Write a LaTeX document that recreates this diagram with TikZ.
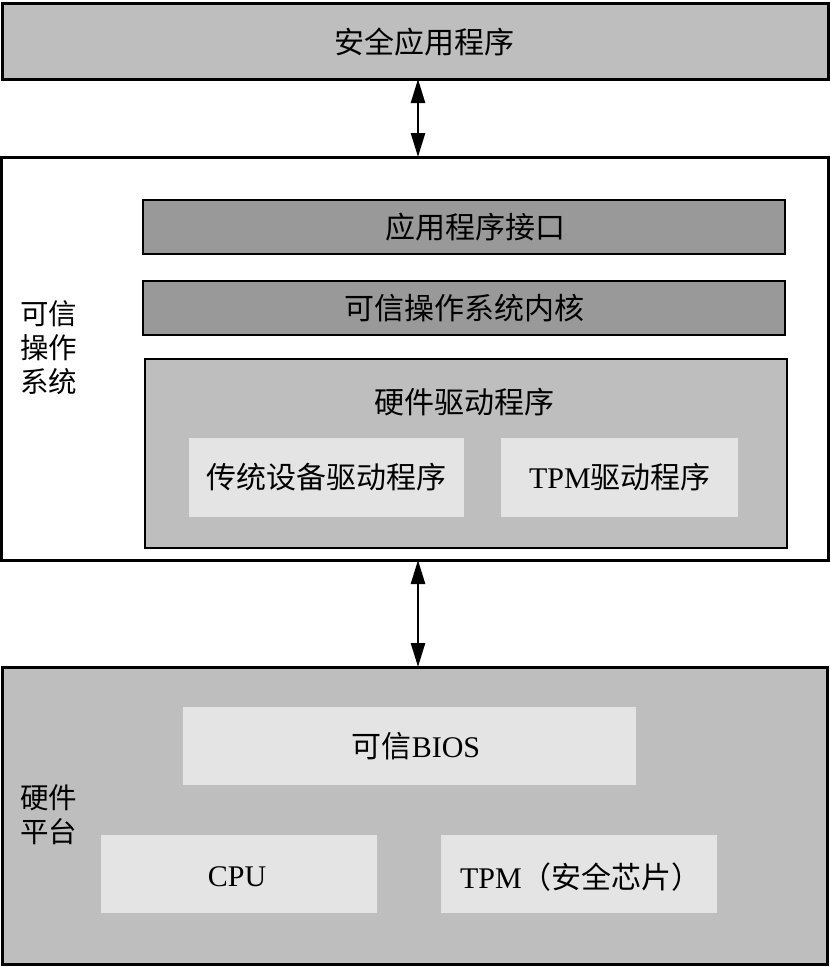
\documentclass[tikz,border=0pt]{standalone}
\usepackage{fontspec}
\setmainfont{Liberation Serif}
\newfontfamily\cjk{Noto Sans CJK SC}
\usetikzlibrary{arrows.meta}
\definecolor{midgray}{HTML}{BEBEBE}
\definecolor{darkgray}{HTML}{999999}
\definecolor{lightgray}{HTML}{E4E4E4}
\begin{document}
\begin{tikzpicture}[x=1pt,y=-1pt,
  outerbox/.style={draw=black,line width=3pt},
  innerbox/.style={draw=black,line width=2.6pt},
  leafbox/.style={fill=lightgray,draw=none},
  txt/.style={font=\fontsize{30}{36}\selectfont\cjk,align=center,inner sep=0pt},
  lbl/.style={font=\fontsize{28.5}{34}\selectfont\cjk,align=left,inner sep=0pt},
  biarrow/.style={{Triangle[length=24pt,width=14pt]}-{Triangle[length=24pt,width=14pt]},line width=2.5pt}]
\useasboundingbox (0,0) rectangle (830,967);
% top
\draw[outerbox,fill=midgray] (2,3) rectangle (828,79);
\node[txt] (app) at (424,42) {安全应用程序};
\coordinate (appb) at (418,79);
% OS box
\draw[outerbox,fill=white] (1,157) rectangle (828,560);
\coordinate (ost) at (418,157);
\coordinate (osb) at (418,560);
\node[lbl,anchor=west] (oslbl) at (20,348) {可信\\操作\\系统};
\draw[innerbox,fill=darkgray] (143,200) rectangle (785,254);
\node[txt] (api) at (475,227) {应用程序接口};
\draw[innerbox,fill=darkgray] (143,281) rectangle (785,335);
\node[txt] (kern) at (464,308) {可信操作系统内核};
\draw[innerbox,fill=midgray] (145,359) rectangle (787,548);
\node[txt] (drv) at (464,402) {硬件驱动程序};
\fill[leafbox] (189,438) rectangle (464,517);
\node[txt] (legacy) at (326,477) {传统设备驱动程序};
\fill[leafbox] (501,438) rectangle (738,517);
\node[txt] (tpmdrv) at (620,477) {{\rmfamily TPM}驱动程序};
% hardware
\draw[outerbox,fill=midgray] (2,667) rectangle (827,964);
\coordinate (hwt) at (418,667);
\node[lbl,anchor=west] (hwlbl) at (20,815) {硬件\\平台};
\fill[leafbox] (183,707) rectangle (636,785);
\node[txt] (bios) at (416,746) {可信{\rmfamily BIOS}};
\fill[leafbox] (101,835) rectangle (377,913);
\node[txt] (cpu) at (237,877) {\rmfamily CPU};
\fill[leafbox] (441,835) rectangle (717,913);
\node[txt] (tpm) at (581,877) {{\rmfamily TPM}（安全芯片）};
% arrows
\draw[biarrow] (appb) -- (ost);
\draw[biarrow] (osb) -- (hwt);
\end{tikzpicture}
\end{document}
